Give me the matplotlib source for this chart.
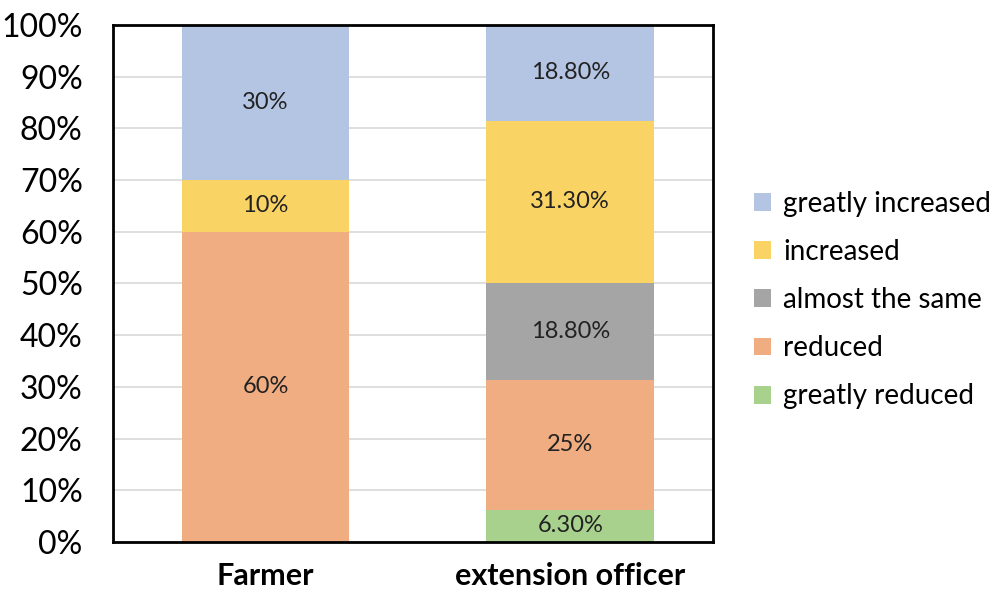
import matplotlib.pyplot as plt
import numpy as np

plt.rcParams['font.family'] = ['Lato', 'DejaVu Sans']

groups = ["Farmer", "extension officer"]
# stacked from the bottom up
categories = ["greatly reduced", "reduced", "almost the same", "increased", "greatly increased"]
values = {
    "greatly reduced": [0, 6.3],
    "reduced": [60, 25],
    "almost the same": [0, 18.8],
    "increased": [10, 31.3],
    "greatly increased": [30, 18.8],
}
labels = {
    "greatly reduced": ["", "6.30%"],
    "reduced": ["60%", "25%"],
    "almost the same": ["", "18.80%"],
    "increased": ["10%", "31.30%"],
    "greatly increased": ["30%", "18.80%"],
}
colors = {
    "greatly reduced": "#a9d18e",
    "reduced": "#f0ad82",
    "almost the same": "#a5a5a5",
    "increased": "#f9d465",
    "greatly increased": "#b4c5e4",
}

fig = plt.figure(figsize=(10.02, 5.9), dpi=100)
ax = fig.add_axes([0.113, 0.081, 0.599, 0.877])

x = np.arange(len(groups))
bottom = np.zeros(len(groups))
handles = {}
for cat in categories:
    vals = np.array(values[cat])
    bars = ax.bar(x, vals, 0.55, bottom=bottom, color=colors[cat], label=cat, zorder=2)
    handles[cat] = bars
    for i, b in enumerate(bars):
        if labels[cat][i]:
            top = min(bottom[i] + vals[i], 100)
            ax.text(x[i], (bottom[i] + top) / 2, labels[cat][i], ha="center", va="center",
                    fontsize=17, color="#222222", zorder=3)
    bottom += vals

ax.set_ylim(0, 100)
ax.set_xlim(-0.5, 1.47)
ax.set_yticks(np.arange(0, 101, 10))
ax.set_yticklabels([f"{v}%" for v in range(0, 101, 10)], fontsize=23)
ax.set_xticks(x)
ax.set_xticklabels(groups, fontsize=22, fontweight="bold")
ax.tick_params(axis="y", length=0, pad=22)
ax.tick_params(axis="x", length=0, pad=14)
ax.yaxis.grid(True, color="#d9d9d9", linewidth=1.2, zorder=0)
ax.set_axisbelow(True)
for s in ax.spines.values():
    s.set_linewidth(2)
    s.set_color("black")

order = categories[::-1]
ax.legend([handles[c] for c in order], order, loc="center left",
          bbox_to_anchor=(1.04, 0.468), frameon=False, fontsize=20,
          handlelength=0.6, handleheight=0.6, handletextpad=0.45, labelspacing=0.8,
          borderaxespad=0.2)

fig.savefig("out.png", dpi=100)
